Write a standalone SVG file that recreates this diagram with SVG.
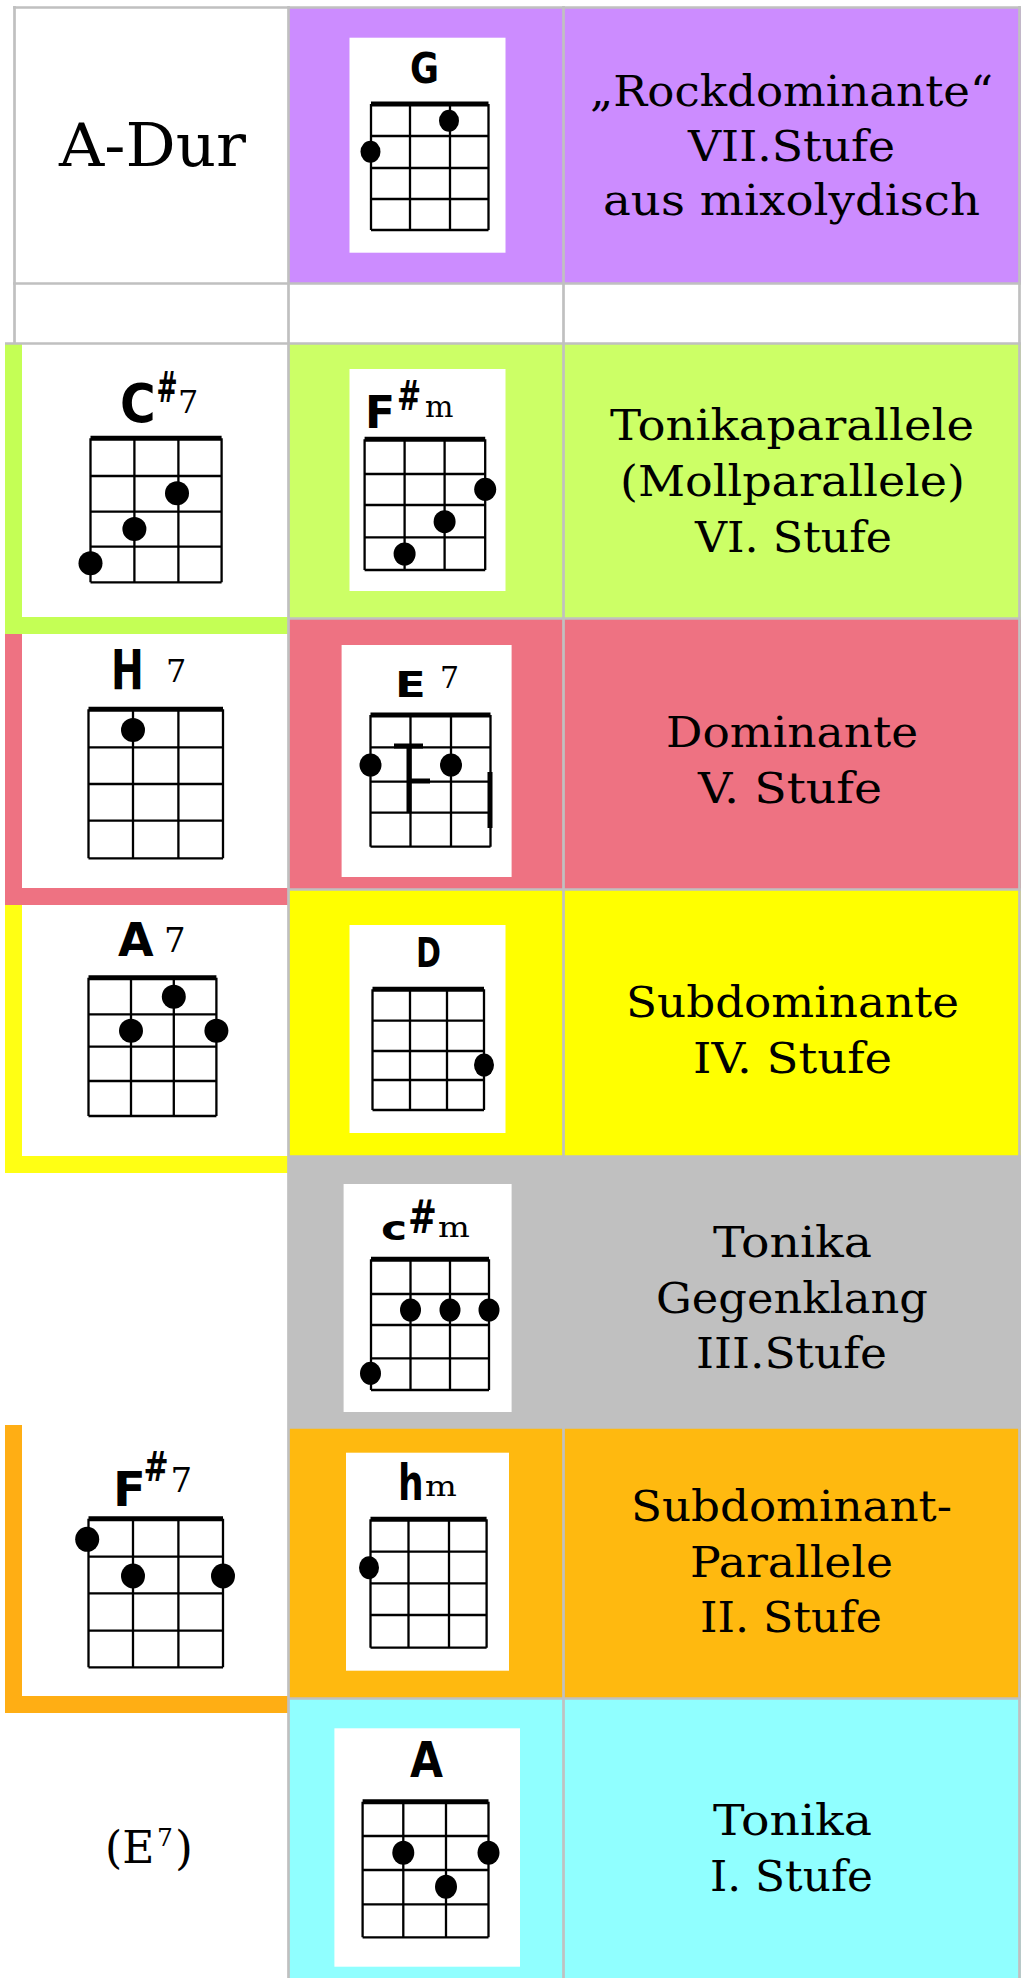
<svg xmlns="http://www.w3.org/2000/svg" width="1021" height="1978" viewBox="0 0 1021 1978">
<style>
.grid{stroke:#c0c0c0;stroke-width:2.7;fill:none}
.str{stroke:#000;stroke-width:2.3;fill:none}
.nut{stroke:#000;stroke-width:5;fill:none}
.dot{fill:#000}
.lbl{font-family:"DejaVu Serif","Liberation Serif",serif;font-size:42px;fill:#000}
.big{font-family:"DejaVu Serif","Liberation Serif",serif;font-size:60px;fill:#000}
.ser{font-family:"DejaVu Serif","Liberation Serif",serif;fill:#000}
.ch{font-family:"DejaVu Sans","Liberation Sans",sans-serif;font-weight:bold;fill:#000}
.chs{font-family:"DejaVu Serif","Liberation Serif",serif;fill:#000}
.box{fill:#fff}
</style>
<rect x="0" y="0" width="1021" height="1978" fill="#fff"/>
<g id="fills">
<rect x="288" y="7" width="733" height="276" fill="#cc8cff"/>
<rect x="288" y="343" width="733" height="275" fill="#ccff66"/>
<rect x="288" y="618" width="733" height="271" fill="#ee7282"/>
<rect x="288" y="889" width="733" height="267" fill="#ffff00"/>
<rect x="288" y="1156" width="733" height="271" fill="#c0c0c0"/>
<rect x="288" y="1427" width="733" height="271" fill="#ffb90f"/>
<rect x="288" y="1698" width="733" height="280" fill="#90ffff"/>
</g>
<g id="brackets">
<rect x="5" y="343" width="283" height="291" fill="#c4ff55"/>
<rect x="22" y="343" width="266" height="274" fill="#fff"/>
<rect x="5" y="634" width="283" height="271" fill="#ee7282"/>
<rect x="22" y="634" width="266" height="254" fill="#fff"/>
<rect x="5" y="905" width="283" height="268" fill="#ffff14"/>
<rect x="22" y="905" width="266" height="251" fill="#fff"/>
<rect x="5" y="1425" width="283" height="288" fill="#ffae14"/>
<rect x="22" y="1425" width="266" height="271" fill="#fff"/>
</g>
<g id="gridlines">
<path class="grid" d="M13 7.5H1021M13 283.5H1021M5 343.5H1021M288 618.5H1021M288 889.5H1021M288 1156.5H1021M288 1427.5H1021M288 1698.5H1021"/>
<path class="grid" d="M14.5 6V343M288.5 6V1978M563.5 6V1978M1019.5 6V1978"/>
</g>

<g id="key">
<text class="big" x="59" y="166" textLength="187" lengthAdjust="spacingAndGlyphs">A-Dur</text>
</g>

<g id="chord-G">
<rect class="box" x="349.5" y="37.7" width="156" height="215"/>
<text class="ch" x="410" y="83" font-size="42" textLength="29" lengthAdjust="spacingAndGlyphs">G</text>
<path class="str" d="M371 104V230M410 104V230M450 104V230M488.5 104V230M371 136H488.5M371 168H488.5M371 199H488.5M371 230H488.5"/>
<path class="nut" d="M371 104H488.5"/>
<ellipse class="dot" cx="449" cy="120.7" rx="10" ry="11"/>
<ellipse class="dot" cx="370.5" cy="151.7" rx="10" ry="11"/>
</g>
<g id="text-VII">
<text class="lbl" x="590" y="106" textLength="403" lengthAdjust="spacingAndGlyphs">„Rockdominante“</text>
<text class="lbl" x="688" y="161" textLength="207" lengthAdjust="spacingAndGlyphs">VII.Stufe</text>
<text class="lbl" x="603" y="215" textLength="377" lengthAdjust="spacingAndGlyphs">aus mixolydisch</text>
</g>

<g id="chord-Cis7">
<text class="ch" font-size="54" transform="translate(120 422) scale(0.9 1)">C</text>
<text class="ch" font-size="42" transform="translate(156.5 402) scale(0.6 1)">#</text>
<text class="chs" font-size="32" x="178" y="413">7</text>
<path class="str" d="M90.5 438.3V582.3M134.4 438.3V582.3M178.4 438.3V582.3M221.6 438.3V582.3M90.5 476H221.6M90.5 511.7H221.6M90.5 546.7H221.6M90.5 582.3H221.6"/>
<path class="nut" d="M90.5 438.3H221.6"/>
<ellipse class="dot" cx="177" cy="493.3" rx="12" ry="12"/>
<ellipse class="dot" cx="134.4" cy="529" rx="12" ry="12"/>
<ellipse class="dot" cx="90.5" cy="563.3" rx="12" ry="12"/>
</g>
<g id="chord-Fism">
<rect class="box" x="349.5" y="369" width="156" height="222"/>
<text class="ch" font-size="44" transform="translate(365 428)">F</text>
<text class="ch" font-size="40" transform="translate(397 410) scale(0.72 1)">#</text>
<text class="chs" font-size="30" x="425" y="417">m</text>
<path class="str" d="M364.6 439.3V570M404.6 439.3V570M444.6 439.3V570M485.2 439.3V570M364.6 474H485.2M364.6 505H485.2M364.6 537.3H485.2M364.6 570H485.2"/>
<path class="nut" d="M364.6 439.3H485.2"/>
<ellipse class="dot" cx="485.2" cy="489.3" rx="11" ry="11.5"/>
<ellipse class="dot" cx="444.6" cy="521.7" rx="11" ry="11.5"/>
<ellipse class="dot" cx="404.6" cy="554" rx="11" ry="11.5"/>
</g>
<g id="text-VI">
<text class="lbl" x="610" y="440" textLength="364" lengthAdjust="spacingAndGlyphs">Tonikaparallele</text>
<text class="lbl" x="620" y="496" textLength="345" lengthAdjust="spacingAndGlyphs">(Mollparallele)</text>
<text class="lbl" x="695" y="552" textLength="197" lengthAdjust="spacingAndGlyphs">VI. Stufe</text>
</g>

<g id="chord-H7">
<text class="ch" font-size="56" transform="translate(111 689) scale(0.7 1)">H</text>
<text class="chs" font-size="32" x="166" y="682">7</text>
<path class="str" d="M88.5 709.3V858.3M133 709.3V858.3M178.4 709.3V858.3M223 709.3V858.3M88.5 747.3H223M88.5 784H223M88.5 820.7H223M88.5 858.3H223"/>
<path class="nut" d="M88.5 709.3H223"/>
<ellipse class="dot" cx="133" cy="730" rx="12" ry="12"/>
</g>
<g id="chord-E7">
<rect class="box" x="341.6" y="645" width="170" height="232"/>
<text class="ch" font-size="36" transform="translate(395 697) scale(1.25 1)">E</text>
<text class="chs" font-size="30" x="440" y="688">7</text>
<path class="str" d="M370.5 715V846.7M410.5 715V846.7M451 715V846.7M490.5 715V846.7M370.5 747.3H490.5M370.5 781.7H490.5M370.5 812.7H490.5M370.5 846.7H490.5"/>
<path class="nut" d="M370.5 715H490.5"/>
<path class="nut" d="M409 746V812M394 746H423M411 781H430M490 772V828" stroke-width="3.5"/>
<ellipse class="dot" cx="370.5" cy="765" rx="11" ry="11.5"/>
<ellipse class="dot" cx="451" cy="765" rx="11" ry="11.5"/>
</g>
<g id="text-V">
<text class="lbl" x="666" y="747" textLength="252" lengthAdjust="spacingAndGlyphs">Dominante</text>
<text class="lbl" x="698" y="803" textLength="184" lengthAdjust="spacingAndGlyphs">V. Stufe</text>
</g>

<g id="chord-A7">
<text class="ch" font-size="46" x="118" y="956">A</text>
<text class="chs" font-size="34" x="164" y="952">7</text>
<path class="str" d="M88.5 977.7V1116M131 977.7V1116M173.8 977.7V1116M216.4 977.7V1116M88.5 1014.3H216.4M88.5 1046.7H216.4M88.5 1081H216.4M88.5 1116H216.4"/>
<path class="nut" d="M88.5 977.7H216.4"/>
<ellipse class="dot" cx="173.8" cy="996.7" rx="12" ry="12"/>
<ellipse class="dot" cx="131" cy="1030.7" rx="12" ry="12"/>
<ellipse class="dot" cx="216.4" cy="1030.7" rx="12" ry="12"/>
</g>
<g id="chord-D">
<rect class="box" x="349.5" y="925" width="156" height="208"/>
<text class="ch" x="416" y="967" font-size="40" textLength="25" lengthAdjust="spacingAndGlyphs">D</text>
<path class="str" d="M372.5 989.3V1110M410 989.3V1110M447 989.3V1110M484 989.3V1110M372.5 1020.7H484M372.5 1051H484M372.5 1080H484M372.5 1110H484"/>
<path class="nut" d="M372.5 989.3H484"/>
<ellipse class="dot" cx="484" cy="1065" rx="10" ry="11.5"/>
</g>
<g id="text-IV">
<text class="lbl" x="626" y="1017" textLength="333" lengthAdjust="spacingAndGlyphs">Subdominante</text>
<text class="lbl" x="693" y="1073" textLength="199" lengthAdjust="spacingAndGlyphs">IV. Stufe</text>
</g>

<g id="chord-cism">
<rect class="box" x="343.6" y="1184" width="168" height="228"/>
<text class="ch" font-size="34" transform="translate(381 1240) scale(1.3 1)">c</text>
<text class="ch" font-size="46" transform="translate(408 1233) scale(0.75 1)">#</text>
<text class="chs" font-size="28" transform="translate(438 1237) scale(1.2 1)">m</text>
<path class="str" d="M371 1259.3V1390M410.5 1259.3V1390M450 1259.3V1390M489 1259.3V1390M371 1294H489M371 1325H489M371 1358.3H489M371 1390H489"/>
<path class="nut" d="M371 1259.3H489"/>
<ellipse class="dot" cx="410.5" cy="1310" rx="10.5" ry="11.5"/>
<ellipse class="dot" cx="450" cy="1310" rx="10.5" ry="11.5"/>
<ellipse class="dot" cx="489" cy="1310" rx="10.5" ry="11.5"/>
<ellipse class="dot" cx="370.5" cy="1373.3" rx="10.5" ry="11.5"/>
</g>
<g id="text-III">
<text class="lbl" x="713" y="1257" textLength="159" lengthAdjust="spacingAndGlyphs">Tonika</text>
<text class="lbl" x="656" y="1313" textLength="272" lengthAdjust="spacingAndGlyphs">Gegenklang</text>
<text class="lbl" x="696" y="1368" textLength="191" lengthAdjust="spacingAndGlyphs">III.Stufe</text>
</g>

<g id="chord-Fis7">
<text class="ch" font-size="48" x="113" y="1506">F</text>
<text class="ch" font-size="40" transform="translate(143.5 1481) scale(0.75 1)">#</text>
<text class="chs" font-size="34" x="170.5" y="1492">7</text>
<path class="str" d="M88.5 1518.7V1667.3M133 1518.7V1667.3M178.4 1518.7V1667.3M223 1518.7V1667.3M88.5 1556.7H223M88.5 1593.3H223M88.5 1630.7H223M88.5 1667.3H223" stroke-width="3"/>
<path class="nut" d="M88.5 1518.7H223"/>
<ellipse class="dot" cx="87.2" cy="1539.3" rx="12" ry="12.5"/>
<ellipse class="dot" cx="133" cy="1576" rx="12" ry="12.5"/>
<ellipse class="dot" cx="223" cy="1576" rx="12" ry="12.5"/>
</g>
<g id="chord-hm">
<rect class="box" x="346" y="1452.7" width="163" height="218"/>
<text class="ch" font-size="50" transform="translate(398 1500) scale(0.72 1)">h</text>
<text class="chs" font-size="28" transform="translate(425 1496) scale(1.2 1)">m</text>
<path class="str" d="M370.5 1519.3V1647.7M408.5 1519.3V1647.7M449 1519.3V1647.7M486.6 1519.3V1647.7M370.5 1551.7H486.6M370.5 1583.3H486.6M370.5 1615H486.6M370.5 1647.7H486.6"/>
<path class="nut" d="M370.5 1519.3H486.6"/>
<ellipse class="dot" cx="369" cy="1567.7" rx="10" ry="11.5"/>
</g>
<g id="text-II">
<text class="lbl" x="631" y="1521" textLength="321" lengthAdjust="spacingAndGlyphs">Subdominant-</text>
<text class="lbl" x="690" y="1577" textLength="203" lengthAdjust="spacingAndGlyphs">Parallele</text>
<text class="lbl" x="700" y="1632" textLength="182" lengthAdjust="spacingAndGlyphs">II. Stufe</text>
</g>

<g id="E7-note">
<text class="ser" font-size="44" x="105" y="1863">(E</text>
<text class="ser" font-size="25" x="157" y="1846">7</text>
<text class="ser" font-size="46" x="175" y="1864">)</text>
</g>
<g id="chord-A">
<rect class="box" x="334.4" y="1728.3" width="185.6" height="238.4"/>
<text class="ch" x="410" y="1777" font-size="50" textLength="33" lengthAdjust="spacingAndGlyphs">A</text>
<path class="str" d="M362.6 1801.7V1937.3M403.3 1801.7V1937.3M446 1801.7V1937.3M488.5 1801.7V1937.3M362.6 1836H488.5M362.6 1870H488.5M362.6 1904.3H488.5M362.6 1937.3H488.5"/>
<path class="nut" d="M362.6 1801.7H488.5"/>
<ellipse class="dot" cx="403.3" cy="1852.7" rx="11" ry="12"/>
<ellipse class="dot" cx="488.5" cy="1852.7" rx="11" ry="12"/>
<ellipse class="dot" cx="446" cy="1886.7" rx="11" ry="12"/>
</g>
<g id="text-I">
<text class="lbl" x="713" y="1835" textLength="159" lengthAdjust="spacingAndGlyphs">Tonika</text>
<text class="lbl" x="710" y="1891" textLength="163" lengthAdjust="spacingAndGlyphs">I. Stufe</text>
</g>
</svg>
